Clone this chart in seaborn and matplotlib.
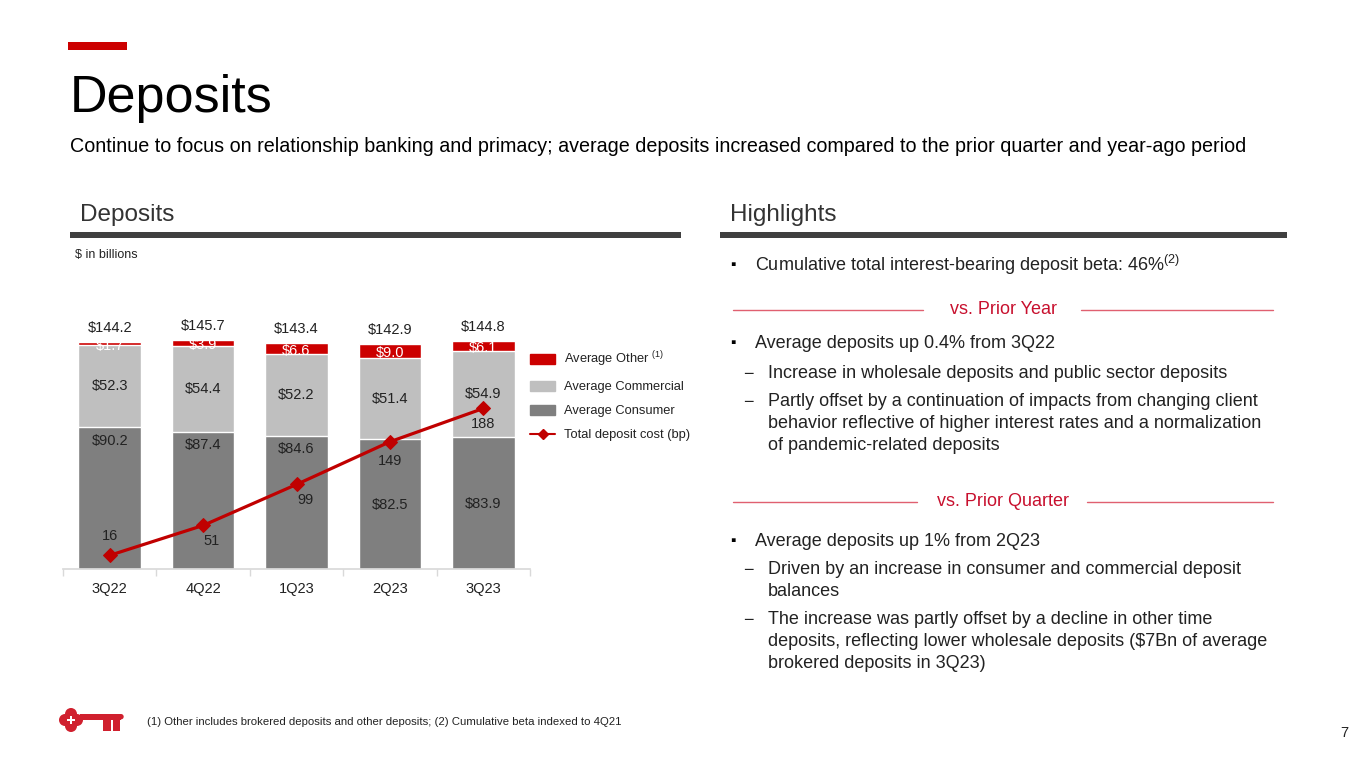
import numpy as np
import pandas as pd
import seaborn as sns
import matplotlib.pyplot as plt
from matplotlib.patches import Patch, Rectangle, Circle
from matplotlib.lines import Line2D

# chart data ($ in billions, cost in bp)
quarters = ["3Q22", "4Q22", "1Q23", "2Q23", "3Q23"]
consumer = [90.2, 87.4, 84.6, 82.5, 83.9]
commercial = [52.3, 54.4, 52.2, 51.4, 54.9]
other = [1.7, 3.9, 6.6, 9.0, 6.1]
totals = [144.2, 145.7, 143.4, 142.9, 144.8]
cost_bp = [16, 51, 99, 149, 188]

RED = "#cc0000"
LINE_RED = "#c00000"
LGRAY = "#bfbfbf"
DGRAY = "#7f7f7f"
TXT = "#222222"
W, H = 1365, 768

sns.set_theme(style="white")
plt.rcParams["font.family"] = ["Liberation Sans", "DejaVu Sans"]
plt.rcParams["mathtext.fontset"] = "custom"
plt.rcParams["mathtext.rm"] = "Liberation Sans"

df = pd.DataFrame({"quarter": quarters, "consumer": consumer,
                   "commercial": commercial, "other": other})
df["cum2"] = df["consumer"] + df["commercial"]
df["cum3"] = df["cum2"] + df["other"]

fig = plt.figure(figsize=(W / 100, H / 100), dpi=100)

# page overlay in pixel coordinates
pg = fig.add_axes([0, 0, 1, 1])
pg.set_xlim(0, W)
pg.set_ylim(H, 0)
pg.axis("off")


def txt(x, y, s, **kw):
    kw.setdefault("va", "center")
    kw.setdefault("color", TXT)
    pg.text(x, y, s, **kw)


pg.add_patch(Rectangle((68, 42), 59, 8, color=RED, lw=0))
txt(70, 112, "Deposits", fontsize=37.5, color="black", va="baseline")
txt(70, 152, "Continue to focus on relationship banking and primacy; average deposits "
    "increased compared to the prior quarter and year-ago period", fontsize=14.2,
    color="black", va="baseline")

txt(80, 215, "Deposits", fontsize=17.5, color="#333333")
txt(730, 215, "Highlights", fontsize=17.5, color="#333333")
pg.add_patch(Rectangle((70, 232), 611, 6, color="#404040", lw=0))
pg.add_patch(Rectangle((720, 232), 567, 6, color="#404040", lw=0))
txt(75, 255, "\\$ in billions", fontsize=9)

# highlights
FS = 13
def bullet(y, s):
    txt(730, y, "\u25aa", fontsize=11, color="black")
    txt(755, y, s, fontsize=FS)

def dash(y, lines):
    txt(743, y, "\u2212", fontsize=FS)
    for k, line in enumerate(lines):
        txt(768, y + k * 21.5, line, fontsize=FS)

def divider(y, s, l_end, r_start):
    pg.plot([733, l_end], [y, y], color="#e06070", lw=1)
    pg.plot([r_start, 1273], [y, y], color="#e06070", lw=1)
    txt(1003, y, s, fontsize=FS, color="#c8102e", ha="center")

bullet(265, "Cumulative total interest-bearing deposit beta: 46%$^{\\mathregular{(2)}}$")
divider(310, "vs. Prior Year", 923, 1081)
bullet(343, "Average deposits up 0.4% from 3Q22")
dash(374, ["Increase in wholesale deposits and public sector deposits"])
dash(402, ["Partly offset by a continuation of impacts from changing client",
           "behavior reflective of higher interest rates and a normalization",
           "of pandemic-related deposits"])
divider(502, "vs. Prior Quarter", 917, 1087)
bullet(541, "Average deposits up 1% from 2Q23")
dash(570, ["Driven by an increase in consumer and commercial deposit", "balances"])
dash(620, ["The increase was partly offset by a decline in other time",
           "deposits, reflecting lower wholesale deposits (\\$7Bn of average",
           "brokered deposits in 3Q23)"])

# footer + key logo
txt(147, 722, "(1) Other includes brokered deposits and other deposits; (2) Cumulative beta indexed to 4Q21",
    fontsize=8.2)
txt(1340, 733, "7", fontsize=10.5)
KEY = "#d0202e"
cx, cy = 71, 720
for dx, dy in [(-6, 0), (6, 0), (0, -6), (0, 6)]:
    pg.add_patch(Circle((cx + dx, cy + dy), 6, color=KEY, lw=0))
pg.add_patch(Circle((cx, cy), 7, color=KEY, lw=0))
pg.add_patch(Rectangle((cx - 4, cy - 1.3), 8, 2.6, color="white", lw=0))
pg.add_patch(Rectangle((cx - 1.3, cy - 4), 2.6, 8, color="white", lw=0))
pg.add_patch(Rectangle((80, 714), 41, 5.5, color=KEY, lw=0))
pg.add_patch(Circle((121, 716.7), 2.7, color=KEY, lw=0))
pg.add_patch(Rectangle((103, 719), 8, 12, color=KEY, lw=0))
pg.add_patch(Rectangle((112.5, 719), 7, 12, color=KEY, lw=0))

# chart
ax = fig.add_axes([63 / W, 1 - 569 / H, (530 - 63) / W, (569 - 300) / H])
ax.patch.set_alpha(0)
sns.barplot(data=df, x="quarter", y="cum3", color=RED, width=0.67, saturation=1,
            errorbar=None, ax=ax)
sns.barplot(data=df, x="quarter", y="cum2", color=LGRAY, width=0.67, saturation=1,
            errorbar=None, ax=ax)
sns.barplot(data=df, x="quarter", y="consumer", color=DGRAY, width=0.67, saturation=1,
            errorbar=None, ax=ax)
ax.set_ylim(0, 171)
ax.set_xlim(-0.5, 4.5)
ax.set_xlabel("")
ax.set_ylabel("")
ax.set_yticks([])
for s in ["top", "left", "right"]:
    ax.spines[s].set_visible(False)
ax.spines["bottom"].set_color("#d9d9d9")
ax.set_xticks(np.arange(-0.5, 5, 1), minor=True)
ax.tick_params(axis="x", which="major", length=0, labelsize=10.5, labelcolor=TXT, pad=9)
ax.tick_params(axis="x", which="minor", length=5, color="#d9d9d9", direction="out", bottom=True)

LFS = 10.5
cons_lbl_drop = [-10, -10, -9.5, -47.5, -48]
for i in range(len(quarters)):
    ax.annotate(f"\\${totals[i]:.1f}", (i, df["cum3"][i]), xytext=(0, 5),
                textcoords="offset points", ha="center", va="bottom", fontsize=LFS, color=TXT)
    ax.annotate(f"\\${other[i]:.1f}", (i, df["cum2"][i] + other[i] / 2), xytext=(0, -1.5),
                textcoords="offset points", ha="center", va="center", fontsize=LFS, color="white")
    ax.annotate(f"\\${commercial[i]:.1f}", (i, consumer[i] + commercial[i] / 2),
                ha="center", va="center", fontsize=LFS, color=TXT)
    ax.annotate(f"\\${consumer[i]:.1f}", (i, consumer[i]), xytext=(0, cons_lbl_drop[i]),
                textcoords="offset points", ha="center", va="center", fontsize=LFS, color=TXT)

ax2 = ax.twinx()
ax2.patch.set_alpha(0)
sns.lineplot(x=np.arange(len(quarters)), y=cost_bp, ax=ax2, color=LINE_RED, lw=2.3,
             marker="D", markersize=7, markeredgecolor=LINE_RED)
ax2.set_ylim(0, 315)
ax2.set_xlim(-0.5, 4.5)
ax2.set_yticks([])
for s in ax2.spines.values():
    s.set_visible(False)
cost_lbl_off = [(0, 14), (6, -11.5), (6.5, -11.5), (0, -13.5), (0, -11.5)]
for i, v in enumerate(cost_bp):
    ax2.annotate(str(v), (i, v), xytext=cost_lbl_off[i], textcoords="offset points",
                 ha="center", va="center", fontsize=LFS, color=TXT)

handles = [Patch(color=RED), Patch(color=LGRAY), Patch(color=DGRAY),
           Line2D([0], [0], color=LINE_RED, lw=1.5, marker="D", markersize=5)]
labels = ["Average Other $^{\\mathregular{(1)}}$", "Average Commercial",
          "Average Consumer", "Total deposit cost (bp)"]
fig.legend(handles, labels, loc="upper left", bbox_to_anchor=(518 / W, 1 - 338 / H),
           frameon=False, fontsize=9.3, handlelength=2.0, handleheight=0.8,
           handletextpad=0.7, labelspacing=0.9, labelcolor=TXT)

fig.savefig("out.png", dpi=100)
